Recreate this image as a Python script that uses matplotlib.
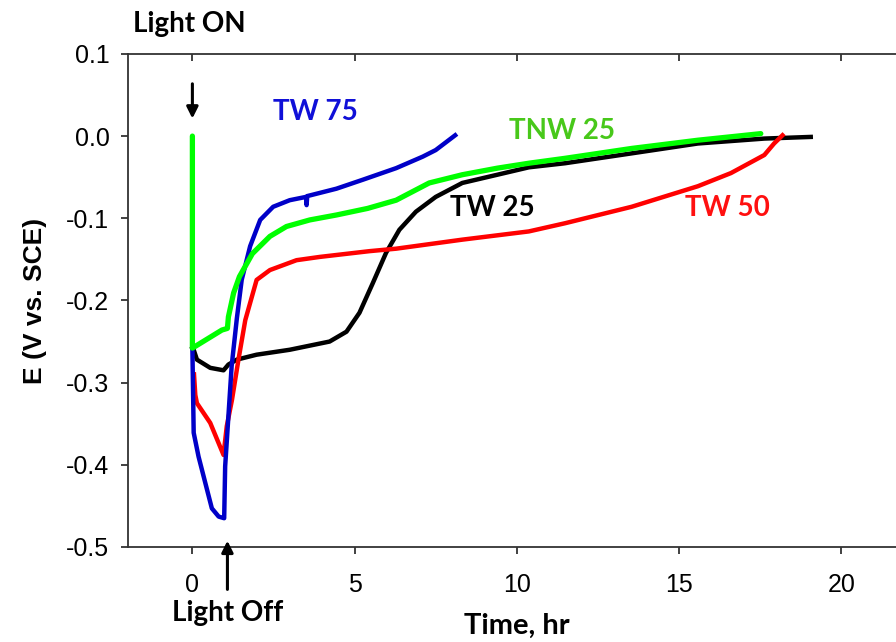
import matplotlib
matplotlib.use("Agg")
import matplotlib.pyplot as plt

# Open-circuit potential after light off, four samples
tw25_t = [0.0, 0.04, 0.14, 0.55, 0.96, 1.11, 1.37, 1.98, 3.0, 4.23, 4.75, 5.15, 5.56,
          5.97, 6.38, 6.89, 7.5, 8.32, 9.4, 10.37, 11.49, 13.54, 15.58, 17.63, 19.06]
tw25_e = [-0.258, -0.260, -0.272, -0.282, -0.285, -0.278, -0.272, -0.266, -0.260, -0.250,
          -0.238, -0.215, -0.179, -0.142, -0.114, -0.092, -0.074, -0.057, -0.047, -0.038,
          -0.033, -0.021, -0.009, -0.003, -0.001]

tw50_t = [0.05, 0.09, 0.14, 0.55, 0.96, 1.06, 1.22, 1.42, 1.63, 1.98, 2.39, 3.21, 3.93,
          5.46, 6.28, 8.32, 10.37, 11.49, 13.54, 15.58, 16.6, 17.63, 17.93, 18.19]
tw50_e = [-0.290, -0.315, -0.325, -0.349, -0.388, -0.353, -0.321, -0.272, -0.224, -0.175,
          -0.163, -0.151, -0.147, -0.140, -0.137, -0.126, -0.116, -0.106, -0.086, -0.061,
          -0.045, -0.023, -0.009, 0.001]

tw75_t = [0.0, 0.04, 0.19, 0.45, 0.6, 0.81, 0.98, 1.01, 1.11, 1.21, 1.37, 1.52, 1.78,
          2.09, 2.49, 3.0, 3.5, 3.52, 3.54, 4.44, 5.26, 6.28, 7.1, 7.5, 8.1]
tw75_e = [-0.258, -0.361, -0.390, -0.430, -0.453, -0.463, -0.465, -0.402, -0.341, -0.280,
          -0.222, -0.175, -0.134, -0.102, -0.086, -0.078, -0.074, -0.084, -0.073, -0.064,
          -0.053, -0.039, -0.025, -0.017, 0.001]

tnw25_t = [0.0, 0.0, 0.91, 1.08, 1.11, 1.27, 1.45, 1.85, 2.39, 2.9, 3.62, 4.44, 5.4,
           6.28, 7.3, 8.32, 9.4, 10.37, 11.49, 13.54, 15.58, 17.52]
tnw25_e = [0.0, -0.258, -0.236, -0.234, -0.220, -0.191, -0.171, -0.143, -0.122, -0.110,
           -0.102, -0.096, -0.088, -0.078, -0.057, -0.047, -0.039, -0.033, -0.027, -0.015,
           -0.005, 0.003]

fig = plt.figure(figsize=(8.96, 6.42), dpi=100)
ax = fig.add_axes([0.1423, 0.148, 0.869, 0.768])

ax.plot(tw25_t, tw25_e, color="black", lw=3.2)
ax.plot(tw50_t, tw50_e, color="#ff0000", lw=3.2)
ax.plot(tw75_t, tw75_e, color="#0000c8", lw=3.2)
ax.plot(tnw25_t, tnw25_e, color="#00ff00", lw=3.8, solid_capstyle="round")

ax.set_xlim(-2, 22)
ax.set_ylim(-0.5, 0.1)
ax.set_xticks([0, 5, 10, 15, 20])
ax.set_yticks([0.1, 0.0, -0.1, -0.2, -0.3, -0.4, -0.5])
ax.set_yticklabels(["0.1", "0.0", "-0.1", "-0.2", "-0.3", "-0.4", "-0.5"])

for s in ax.spines.values():
    s.set_color("#333333")
    s.set_linewidth(1.3)
ax.spines["right"].set_visible(False)
ax.tick_params(axis="both", direction="out", length=5, width=1.3, color="#333333",
               labelsize=18)
ax.tick_params(axis="y", pad=8)
ax.tick_params(axis="x", top=True, pad=14)
for t in ax.xaxis.get_major_ticks():
    t.tick2line.set_marker(3)  # top ticks point into the plot
for lab in ax.get_xticklabels() + ax.get_yticklabels():
    lab.set_family("Liberation Sans")

ax.set_xlabel("Time, hr", family="Lato", weight="bold", fontsize=21, labelpad=11)
ax.set_ylabel("E (V vs. SCE)", family="Liberation Sans", weight="bold", fontsize=19, labelpad=14)

lbl = dict(family="Lato", weight="bold", ha="center", va="center")
ax.text(3.8, 0.029, "TW 75", color="#1010d8", fontsize=20, **lbl)
ax.text(11.4, 0.0065, "TNW 25", color="#48c81a", fontsize=20, **lbl)
ax.text(9.25, -0.088, "TW 25", color="black", fontsize=20, **lbl)
ax.text(16.5, -0.087, "TW 50", color="#ff1010", fontsize=20, **lbl)

ax.text(-0.08, 0.1365, "Light ON", fontsize=20, clip_on=False, **lbl)
ax.text(1.1, -0.58, "Light Off", fontsize=20, clip_on=False, **lbl)

arrow = dict(arrowstyle="-|>", color="black", lw=2.2, mutation_scale=17)
ax.annotate("", xy=(0, 0.018), xytext=(0, 0.067), arrowprops=arrow, annotation_clip=False)
ax.annotate("", xy=(1.08, -0.489), xytext=(1.08, -0.555), arrowprops=arrow, annotation_clip=False)

fig.savefig("out.png", dpi=100)
